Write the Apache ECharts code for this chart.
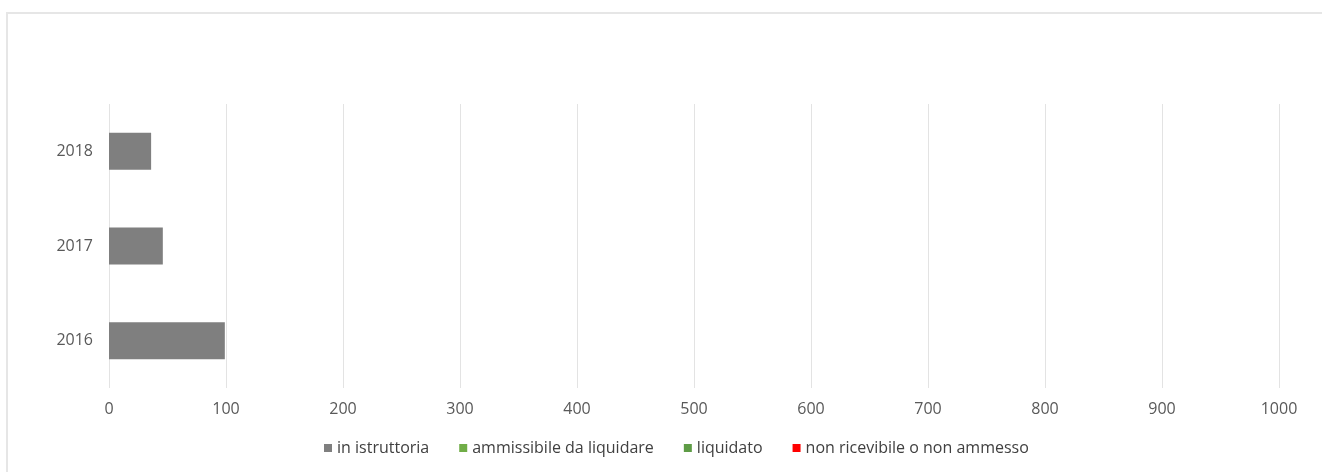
<!DOCTYPE html>
<html>
<head>
<meta charset="utf-8">
<script src="https://cdn.jsdelivr.net/npm/echarts@6/dist/echarts.min.js"></script>
<style>
  html, body { margin: 0; padding: 0; background: #fff; }
  .chart-wrap {
    position: relative;
    width: 1322px;
    height: 472px;
    overflow: hidden;
  }
  .frame {
    position: absolute;
    left: 6px;
    top: 12px;
    width: 1330px;
    height: 480px;
    border-top: 2px solid #e6e6e6;
    border-left: 2px solid #e6e6e6;
    box-sizing: border-box;
  }
  #chart { position: absolute; left: 0; top: 0; width: 1322px; height: 472px; }
</style>
</head>
<body>
<div class="chart-wrap">
  <div class="frame"></div>
  <div id="chart"></div>
</div>
<script>
  // anni (dal basso verso l'alto)
  const years = ['2016', '2017', '2018']
  const seriesNames = ['in istruttoria', 'ammissibile da liquidare', 'liquidato', 'non ricevibile o non ammesso']
  const inIstruttoria = [99, 46, 36]
  const ammissibile = [0, 0, 0]
  const liquidato = [0, 0, 0]
  const nonRicevibile = [0, 0, 0]
  const colors = ['#7f7f7f', '#70ad47', '#5e9c46', '#ff0000']

  const font = 'Open Sans'
  const mychart = echarts.init(document.getElementById('chart'))

  const makeSeries = (name, data, i) => ({
    type: 'bar',
    name: name,
    stack: 'Total',
    barWidth: '39%',
    itemStyle: { color: colors[i] },
    data: data
  })

  mychart.setOption({
    animation: false,
    legend: {
      data: seriesNames,
      left: 319,
      top: 435,
      icon: 'rect',
      itemWidth: 8,
      itemHeight: 8,
      itemGap: 30,
      textStyle: { fontFamily: font, fontSize: 16, color: '#404040', padding: [0, 0, 0, 0] }
    },
    grid: { left: 109, right: 43, top: 104, bottom: 84, containLabel: false },
    xAxis: {
      type: 'value',
      min: 0,
      max: 1000,
      interval: 100,
      axisLine: { show: false },
      axisTick: { show: false },
      splitLine: { show: true, lineStyle: { color: '#e3e3e3', width: 1 } },
      axisLabel: { fontFamily: font, fontSize: 16, color: '#595959', margin: 13, formatter: v => String(v) }
    },
    yAxis: {
      type: 'category',
      data: years,
      axisLine: { show: false },
      axisTick: { show: false },
      axisLabel: { fontFamily: font, fontSize: 16, color: '#595959', margin: 16 }
    },
    series: [
      makeSeries(seriesNames[0], inIstruttoria, 0),
      makeSeries(seriesNames[1], ammissibile, 1),
      makeSeries(seriesNames[2], liquidato, 2),
      makeSeries(seriesNames[3], nonRicevibile, 3)
    ]
  })
</script>
</body>
</html>
